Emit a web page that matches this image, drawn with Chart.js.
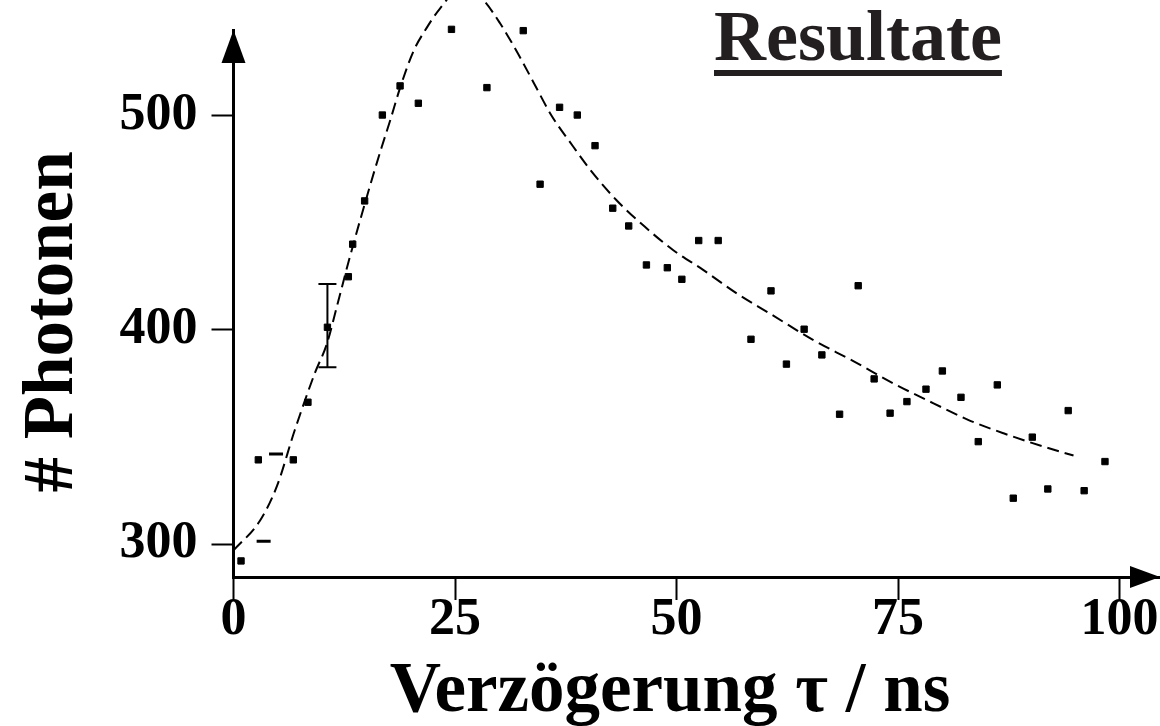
<!DOCTYPE html>
<html lang="de">
<head>
<meta charset="utf-8">
<title>Resultate</title>
<script src="https://cdn.jsdelivr.net/npm/chart.js@4.4.1/dist/chart.umd.min.js"></script>
<style>
    html, body { margin: 0; padding: 0; background: #fff; }
    canvas { display: block; }
</style>
</head>
<body>
<canvas id="resultChart" width="1160" height="726"></canvas>
<script>
// Messpunkte: Verzögerung (ns) und Anzahl Photonen
const messX = [0.85, 2.8, 6.75, 8.4, 10.6, 12.96, 13.45, 14.8, 16.8, 18.8, 20.86, 24.6,
    28.6, 32.7, 34.6, 36.8, 38.8, 40.8, 42.8, 44.6, 46.6, 48.96, 50.6, 52.5, 54.7,
    58.4, 60.66, 62.4, 64.4, 66.4, 68.4, 70.5, 72.3, 74.1, 76.0, 78.15, 80.0, 82.1,
    84.05, 86.2, 88.0, 90.15, 91.9, 94.2, 96.0, 98.35];
const messY = [292.1, 339.3, 339.3, 366.2, 401.2, 424.8, 440.0, 460.2, 500.3, 513.9, 505.8, 540.3,
    513.1, 539.7, 468.0, 503.9, 500.3, 486.0, 456.8, 448.5, 430.3, 429.0, 423.6, 441.7, 441.7,
    395.6, 418.2, 384.0, 400.3, 388.3, 360.6, 420.6, 377.1, 361.1, 366.5, 372.3, 380.8, 368.5,
    347.8, 374.3, 321.4, 349.9, 325.7, 362.3, 324.9, 338.5];

// Zwei Messwerte als Strich-Marker
const strichX = [3.4, 4.8];
const strichY = [301.3, 342.0];

// Fehlerbalken
const fehlerX = [10.6];
const fehlerUnten = [382.5];
const fehlerOben = [421.4];

// Fitkurve
const fitX = [0, 3.0, 4.9, 6.9, 9.2, 10.5, 11.8, 13.0, 15.6, 16.7, 17.7, 18.8, 20.3, 21.8, 23.3,
    26.0, 28.2, 30.1, 32.1, 33.8, 35.9, 38.35, 40.4, 43.2, 46.4, 49.6, 53.0, 56.8, 60.5,
    65.4, 69.9, 74.7, 79.0, 82.9, 86.9, 91.4, 94.8];
const fitY = [297, 311, 327, 353, 380, 393, 413, 432, 470, 485, 498, 513, 530, 541, 550,
    561, 554, 543, 529, 516, 500, 485.5, 474, 460.6, 448.2, 437.3, 428, 417, 407.7,
    395.3, 385.5, 374.5, 365.7, 358, 351.7, 345.5, 341.3];

// Achsen
const xTicks = [0, 25, 50, 75, 100];
const yTicks = [300, 400, 500];

const SERIF = "'Liberation Serif', 'Times New Roman', serif";

const toXY = (xs, ys) => xs.map((x, i) => ({ x: x, y: ys[i] }));

// Achsen ohne automatische Randabstände für überstehende Labels
const noPad = s => {
    s.paddingTop = 0; s.paddingBottom = 0;
    s.paddingLeft = 0; s.paddingRight = 0;
};

// Pfeile, Fehlerbalken und Beschriftung
const extras = {
    id: 'extras',
    afterDatasetsDraw(chart) {
        const { ctx, scales } = chart;
        const xs = scales.x, ys = scales.y;
        ctx.save();
        ctx.strokeStyle = '#000';
        ctx.lineWidth = 2;
        fehlerX.forEach((v, i) => {
            const px = xs.getPixelForValue(v);
            const top = ys.getPixelForValue(fehlerOben[i]);
            const bot = ys.getPixelForValue(fehlerUnten[i]);
            ctx.beginPath();
            ctx.moveTo(px, top); ctx.lineTo(px, bot);
            ctx.moveTo(px - 9, top); ctx.lineTo(px + 9, top);
            ctx.moveTo(px - 9, bot); ctx.lineTo(px + 9, bot);
            ctx.stroke();
        });
        ctx.restore();
    },
    afterDraw(chart) {
        const { ctx, chartArea } = chart;
        ctx.save();
        ctx.fillStyle = '#000';
        // Pfeil y-Achse
        const ax = chartArea.left;
        ctx.beginPath();
        ctx.moveTo(ax, chartArea.top);
        ctx.lineTo(ax - 12, chartArea.top + 33);
        ctx.lineTo(ax + 12, chartArea.top + 33);
        ctx.closePath();
        ctx.fill();
        // Pfeil x-Achse
        const ay = chartArea.bottom;
        ctx.beginPath();
        ctx.moveTo(chartArea.right, ay);
        ctx.lineTo(chartArea.right - 30, ay - 11);
        ctx.lineTo(chartArea.right - 30, ay + 11);
        ctx.closePath();
        ctx.fill();

        // Titel
        ctx.fillStyle = '#231f20';
        ctx.font = 'bold 72px ' + SERIF;
        ctx.textAlign = 'left';
        ctx.textBaseline = 'alphabetic';
        ctx.fillText('Resultate', 714, 60);
        const w = ctx.measureText('Resultate').width;
        ctx.fillRect(714, 70, w, 6);

        // Achsentitel
        ctx.fillStyle = '#000';
        ctx.font = 'bold 71px ' + SERIF;
        ctx.textAlign = 'center';
        ctx.fillText('Verzögerung τ / ns', 670, 711);
        ctx.translate(72, 322);
        ctx.rotate(-Math.PI / 2);
        ctx.fillText('# Photonen', 0, 0);
        ctx.restore();
    }
};

const ctx = document.getElementById('resultChart').getContext('2d');
new Chart(ctx, {
    type: 'scatter',
    data: {
        datasets: [{
            label: 'Messung',
            data: toXY(messX, messY),
            pointStyle: 'rect',
            pointRadius: 4.5,
            backgroundColor: '#000',
            borderColor: '#000',
            borderWidth: 1,
            clip: false
        }, {
            label: 'Messung (Strich)',
            data: toXY(strichX, strichY),
            pointStyle: 'line',
            pointRadius: 7,
            borderColor: '#000',
            borderWidth: 3
        }, {
            label: 'Fit',
            data: toXY(fitX, fitY),
            showLine: true,
            pointRadius: 0,
            borderColor: '#000',
            borderWidth: 2,
            borderDash: [12, 6],
            cubicInterpolationMode: 'monotone',
            clip: false
        }]
    },
    plugins: [extras],
    options: {
        responsive: false,
        animation: false,
        layout: { autoPadding: false, padding: { top: 30, left: 0, right: 0, bottom: 0 } },
        plugins: {
            legend: { display: false },
            tooltip: { enabled: false }
        },
        scales: {
            x: {
                type: 'linear',
                min: 0,
                max: 104.56,
                afterFit: s => { s.height = 149; noPad(s); },
                afterBuildTicks: s => { s.ticks = xTicks.map(v => ({ value: v })); },
                grid: { drawOnChartArea: false, tickLength: 23, tickWidth: 2, tickColor: '#000' },
                border: { display: true, color: '#000', width: 3 },
                ticks: {
                    color: '#000',
                    maxRotation: 0,
                    padding: 5,
                    font: { family: SERIF, size: 52, weight: 'bold', lineHeight: 0.6 }
                }
            },
            y: {
                type: 'linear',
                min: 284.6,
                max: 540,
                afterFit: s => { s.width = 233.5; noPad(s); },
                afterBuildTicks: s => { s.ticks = yTicks.map(v => ({ value: v })); },
                grid: { drawOnChartArea: false, tickLength: 22, tickWidth: 2, tickColor: '#000' },
                border: { display: true, color: '#000', width: 3 },
                ticks: {
                    color: '#000',
                    padding: 14,
                    font: { family: SERIF, size: 52, weight: 'bold' }
                }
            }
        }
    }
});
</script>
</body>
</html>
